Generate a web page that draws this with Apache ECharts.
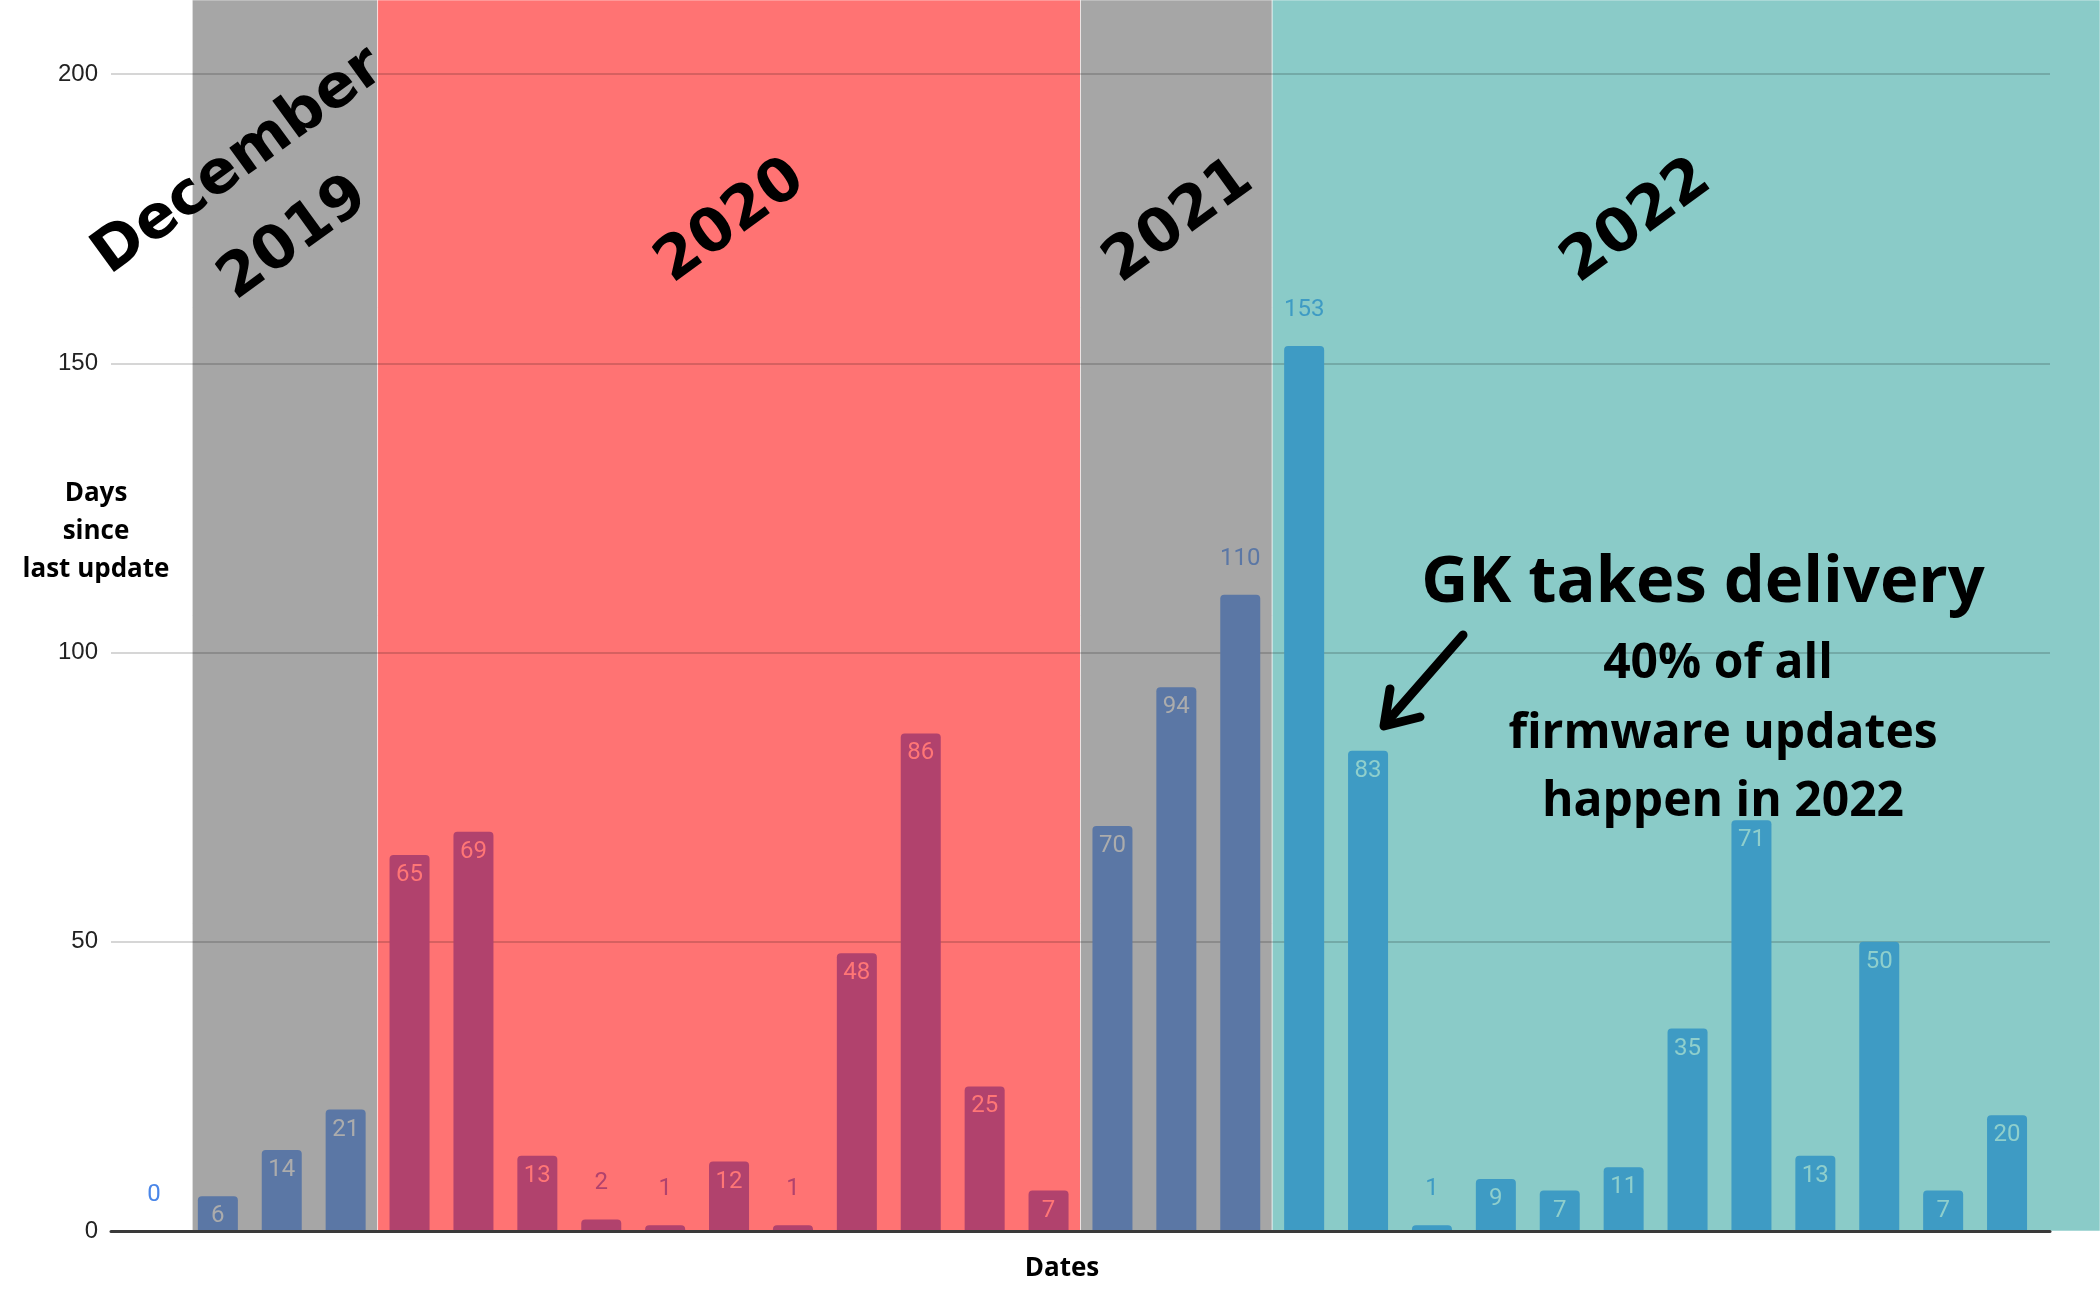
<!DOCTYPE html>
<html>
<head>
<meta charset="utf-8">
<script src="https://cdn.jsdelivr.net/npm/echarts@6/dist/echarts.min.js"></script>
<style>
  html, body { margin: 0; padding: 0; background: #fff; }
  #firmware-chart { width: 2100px; height: 1300px; }
</style>
</head>
<body>
<div id="firmware-chart"></div>
<script>
// one bar per firmware update, in order
const updates = ['u0', 'u1', 'u2', 'u3', 'u4', 'u5', 'u6', 'u7', 'u8', 'u9',
  'u10', 'u11', 'u12', 'u13', 'u14', 'u15', 'u16', 'u17', 'u18', 'u19',
  'u20', 'u21', 'u22', 'u23', 'u24', 'u25', 'u26', 'u27', 'u28', 'u29'];
const daysSince = [0, 6, 14, 21, 65, 69, 13, 2, 1, 12, 1, 48, 86, 25, 7,
  70, 94, 110, 153, 83, 1, 9, 7, 11, 35, 71, 13, 50, 7, 20];
const updateYear = ['', '2019', '2019', '2019',
  '2020', '2020', '2020', '2020', '2020', '2020', '2020', '2020', '2020', '2020', '2020',
  '2021', '2021', '2021',
  '2022', '2022', '2022', '2022', '2022', '2022', '2022', '2022', '2022', '2022', '2022', '2022'];
// background bands, edges counted in bars from the left of the axis (null = to page edge)
const yearBands = [
  { year: '2019', from: 1.1, to: 4 },
  { year: '2020', from: 4, to: 15 },
  { year: '2021', from: 15, to: 18 },
  { year: '2022', from: 18, to: null },
];

const bandColor = { '2019': '#a6a6a6', '2020': '#ff7373', '2021': '#a6a6a6', '2022': '#8acbc8' };
const barColor = { '': '#4a86e8', '2019': '#5b77a5', '2020': '#b1426d', '2021': '#5b77a5', '2022': '#3e9bc4' };
const innerLabelColor = { '': '#4a86e8', '2019': '#acacac', '2020': '#ff7676', '2021': '#acacac', '2022': '#8fcfcc' };

const chart = echarts.init(document.getElementById('firmware-chart'));

const barData = daysSince.map((v, i) => {
  const yr = updateYear[i];
  const outside = v <= 2 || v > 100;
  return {
    value: v,
    itemStyle: { color: barColor[yr], borderRadius: [4, 4, 0, 0] },
    label: outside
      ? { position: 'top', distance: 24, color: barColor[yr] }
      : { position: 'insideTop', distance: 8, color: innerLabelColor[yr] },
  };
});

const rot = 36 * Math.PI / 180;
const yearText = (text, x, y) => ({
  type: 'text', x: x, y: y, rotation: rot, z: 10,
  style: {
    text: text, x: 0, y: 0, align: 'center', verticalAlign: 'middle',
    font: 'bold 60px "DejaVu Sans"', fill: '#000',
  },
});
const noteText = (text, x, y, size) => ({
  type: 'text', x: x, y: y, z: 10,
  style: {
    text: text, x: 0, y: 0, align: 'center', verticalAlign: 'middle',
    font: 'bold ' + size + 'px "Open Sans"', fill: '#000',
  },
});

chart.setOption({
  animation: false,
  backgroundColor: '#fff',
  // grid 0 carries gridlines / labels (a bit wider), grid 1 carries the bars
  grid: [
    { left: 111, right: 50, top: 74, bottom: 69, outerBoundsMode: 'none' },
    { left: 122, right: 61, top: 74, bottom: 69, outerBoundsMode: 'none' },
  ],
  xAxis: [
    {
      type: 'category',
      gridIndex: 0,
      data: updates,
      z: 4,
      axisTick: { show: false },
      axisLabel: { show: false },
      axisLine: { lineStyle: { color: '#3a3a3a', width: 3 } },
    },
    {
      type: 'category',
      gridIndex: 1,
      data: updates,
      axisTick: { show: false },
      axisLabel: { show: false },
      axisLine: { show: false },
    },
  ],
  yAxis: [
    {
      type: 'value',
      gridIndex: 0,
      min: 0,
      max: 200,
      interval: 50,
      z: 2,
      axisLine: { show: false },
      axisTick: { show: false },
      axisLabel: { color: '#222', fontFamily: 'Liberation Sans', fontSize: 24, margin: 13 },
      splitLine: { lineStyle: { color: 'rgba(0,0,0,0.16)', width: 2 } },
    },
    {
      type: 'value',
      gridIndex: 1,
      min: 0,
      max: 200,
      interval: 50,
      axisLine: { show: false },
      axisTick: { show: false },
      axisLabel: { show: false },
      splitLine: { show: false },
    },
  ],
  series: [
    {
      type: 'custom',
      name: 'years',
      xAxisIndex: 1,
      yAxisIndex: 1,
      z: 1,
      clip: false,
      silent: true,
      encode: { x: 0 },
      data: yearBands.map(b => [b.from, b.to === null ? updates.length : b.to]),
      renderItem: (params, api) => {
        const band = yearBands[params.dataIndex];
        const origin = api.coord([0, 0]);
        const bw = api.size([1, 0])[0];
        const left = origin[0] - bw / 2;
        const x0 = left + band.from * bw;
        const x1 = band.to === null ? api.getWidth() : left + band.to * bw;
        return {
          type: 'rect',
          shape: { x: x0, y: 0, width: x1 - x0, height: origin[1] },
          style: { fill: bandColor[band.year], stroke: 'rgba(255,255,255,0.55)', lineWidth: 1 },
        };
      },
    },
    {
      type: 'bar',
      name: 'Days since last update',
      xAxisIndex: 1,
      yAxisIndex: 1,
      z: 3,
      barWidth: 40,
      data: barData,
      label: { show: true, fontFamily: 'Roboto', fontSize: 24 },
    },
  ],
  graphic: [
    {
      type: 'text', x: 96, y: 532, z: 10,
      style: {
        text: 'Days\nsince\nlast update', x: 0, y: 0, align: 'center', verticalAlign: 'middle',
        font: 'bold 26px "Open Sans"', lineHeight: 38, fill: '#000',
      },
    },
    {
      type: 'text', x: 1062, y: 1269, z: 10,
      style: {
        text: 'Dates', x: 0, y: 0, align: 'center', verticalAlign: 'middle',
        font: 'bold 26px "Open Sans"', fill: '#000',
      },
    },
    yearText('December', 239, 162),
    yearText('2019', 294, 239),
    yearText('2020', 731, 222),
    yearText('2021', 1179, 222),
    yearText('2022', 1637, 222),
    noteText('GK takes delivery', 1703, 583, 65),
    noteText('40% of all', 1718, 664, 48),
    noteText('firmware updates', 1723, 734, 48),
    noteText('happen in 2022', 1723, 802, 48),
    {
      type: 'polyline', z: 10,
      shape: { points: [[1463, 635], [1386, 723]] },
      style: { stroke: '#000', lineWidth: 9, lineCap: 'round' },
    },
    {
      type: 'polyline', z: 10,
      shape: { points: [[1390, 689], [1384, 726], [1420, 717]] },
      style: { stroke: '#000', lineWidth: 9, lineCap: 'round', lineJoin: 'round' },
    },
  ],
});
</script>
</body>
</html>
